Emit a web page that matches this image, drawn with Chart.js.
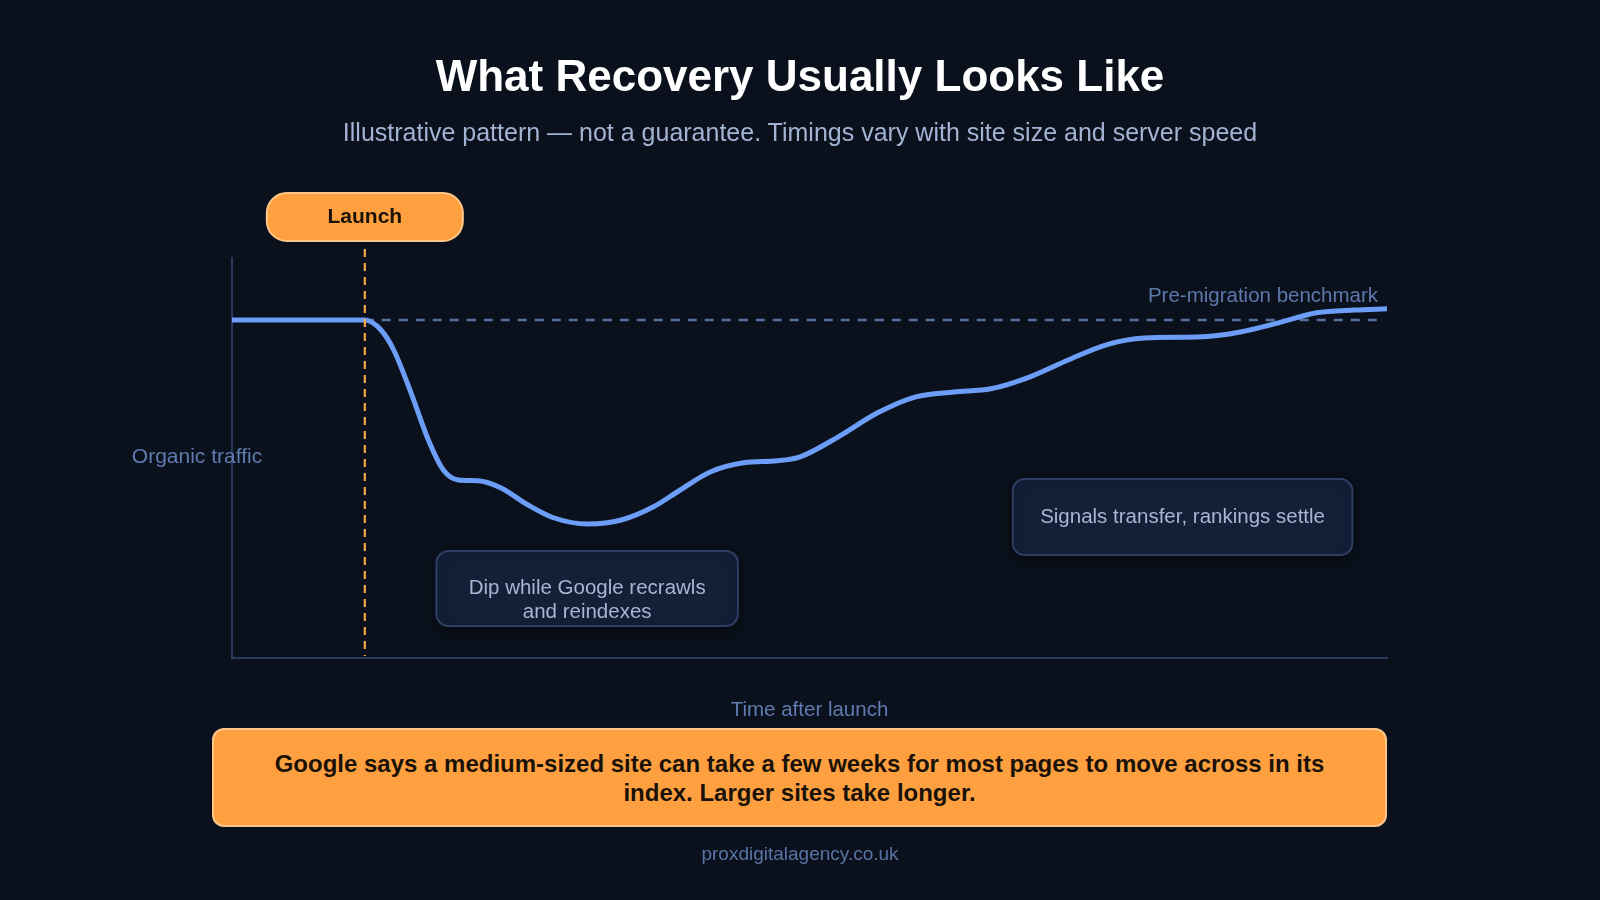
<!DOCTYPE html>
<html>
<head>
<meta charset="utf-8">
<script src="https://cdn.jsdelivr.net/npm/chart.js@4.4.1/dist/chart.umd.min.js"></script>
<style>
    html, body {
        margin: 0;
        padding: 0;
        background: #0a111c;
        width: 1600px;
        height: 900px;
        overflow: hidden;
        font-family: "Liberation Sans", Arial, sans-serif;
    }
    #myChart {
        position: absolute;
        left: 0;
        top: 0;
    }
    .title {
        position: absolute;
        left: 0;
        width: 1600px;
        top: 49px;
        text-align: center;
        color: #ffffff;
        font-size: 44px;
        font-weight: bold;
        line-height: 54px;
    }
    .subtitle {
        position: absolute;
        left: 0;
        width: 1600px;
        top: 117px;
        text-align: center;
        color: #a3b3d3;
        font-size: 25px;
        line-height: 30px;
    }
    .note {
        position: absolute;
        left: 212px;
        top: 728px;
        width: 1175px;
        height: 99px;
        box-sizing: border-box;
        background: #ffa040;
        border: 2px solid #ffc68a;
        border-radius: 12px;
        display: flex;
        align-items: center;
        justify-content: center;
        text-align: center;
        color: #1a1208;
        font-size: 24px;
        font-weight: bold;
        line-height: 29px;
        padding: 0 40px;
    }
    .footer {
        position: absolute;
        left: 0;
        width: 1600px;
        top: 843px;
        text-align: center;
        color: #5a73a5;
        font-size: 19px;
        line-height: 22px;
    }
</style>
</head>
<body>
<canvas id="myChart" width="1600" height="900"></canvas>
<div class="title">What Recovery Usually Looks Like</div>
<div class="subtitle">Illustrative pattern — not a guarantee. Timings vary with site size and server speed</div>
<div class="note">Google says a medium-sized site can take a few weeks for most pages to move across in its index. Larger sites take longer.</div>
<div class="footer">proxdigitalagency.co.uk</div>
<script>
// time after launch (0-100) and organic traffic (0-100)
const timeX = [0, 11.5, 12.9, 14, 15.5, 17, 18.3, 19.6, 21.3, 23.3, 25.6, 27.9, 30.8, 33.7, 36.5, 38.8, 41.4, 44.3, 47.2, 49.2, 52.5, 55.9, 59.2, 62.5, 65.7, 69.1, 72.4, 75.7, 79.0, 84.0, 87.3, 90.6, 93.9, 97.2, 100];
const traffic = [84.5, 84.5, 82, 77, 66.3, 54.5, 47, 44.5, 44.3, 42.5, 38.3, 35, 33.5, 34.5, 37.8, 42, 46.5, 48.8, 49.3, 50.3, 55.3, 61.3, 65.3, 66.5, 67.3, 70.3, 74.5, 78.3, 80, 80.3, 81.5, 83.8, 86.3, 87, 87.3];

const launchX = 11.5;
const benchmarkY = 84.5;
const benchmarkX = [11.5, 99.4];

const labels = {
    launch: "Launch",
    benchmark: "Pre-migration benchmark",
    yAxis: "Organic traffic",
    xAxis: "Time after launch",
    dip: ["Dip while Google recrawls", "and reindexes"],
    settle: ["Signals transfer, rankings settle"]
};
// callout boxes anchored in data units: [x0, x1, yTop, yBottom]
const dipBox = [17.7, 43.8, 26.75, 8];
const settleBox = [67.6, 97, 44.75, 25.75];

function roundBox(ctx, x, y, w, h, r, fill, stroke) {
    ctx.beginPath();
    ctx.roundRect(x, y, w, h, r);
    ctx.fillStyle = fill;
    ctx.fill();
    ctx.lineWidth = 2;
    ctx.strokeStyle = stroke;
    ctx.stroke();
}

function callout(ctx, xs, ys, box, lines) {
    const x0 = xs.getPixelForValue(box[0]);
    const x1 = xs.getPixelForValue(box[1]);
    const y0 = ys.getPixelForValue(box[2]);
    const y1 = ys.getPixelForValue(box[3]);
    ctx.save();
    ctx.shadowColor = "rgba(0,0,0,0.45)";
    ctx.shadowBlur = 14;
    ctx.shadowOffsetY = 4;
    roundBox(ctx, x0, y0, x1 - x0, y1 - y0, 12, "#141f38", "#2f3f63");
    ctx.restore();
    ctx.fillStyle = "#a8b6d2";
    ctx.font = "20.5px 'Liberation Sans', Arial, sans-serif";
    ctx.textAlign = "center";
    ctx.textBaseline = "middle";
    const cx = (x0 + x1) / 2;
    const cy = (y0 + y1) / 2;
    const lh = 24;
    lines.forEach((t, i) => {
        let off = lines.length > 1 ? (i - 0.5) * lh + 12 : 0;
        ctx.fillText(t, cx, cy + off);
    });
}

const annotate = {
    id: "annotate",
    afterDatasetsDraw(chart) {
        const ctx = chart.ctx;
        const xs = chart.scales.x;
        const ys = chart.scales.y;
        const area = chart.chartArea;

        // launch marker
        const lx = xs.getPixelForValue(launchX);
        ctx.save();
        ctx.strokeStyle = "#f5a445";
        ctx.lineWidth = 2.2;
        ctx.setLineDash([8, 6]);
        ctx.beginPath();
        ctx.moveTo(lx, area.top - 9);
        ctx.lineTo(lx, area.bottom - 2);
        ctx.stroke();
        ctx.restore();

        ctx.save();
        roundBox(ctx, lx - 98, area.top - 65, 196, 48, 20, "#ffa040", "#ffc68a");
        ctx.fillStyle = "#1b1206";
        ctx.font = "bold 21px 'Liberation Sans', Arial, sans-serif";
        ctx.textAlign = "center";
        ctx.textBaseline = "middle";
        ctx.fillText(labels.launch, lx, area.top - 41);
        ctx.restore();

        // benchmark label
        ctx.save();
        ctx.fillStyle = "#5d78ab";
        ctx.font = "20.5px 'Liberation Sans', Arial, sans-serif";
        ctx.textAlign = "right";
        ctx.textBaseline = "middle";
        ctx.fillText(labels.benchmark, xs.getPixelForValue(benchmarkX[1]) - 2, ys.getPixelForValue(benchmarkY) - 24);

        // axis labels
        ctx.fillStyle = "#5f7bb0";
        ctx.font = "21px 'Liberation Sans', Arial, sans-serif";
        ctx.textAlign = "center";
        ctx.fillText(labels.yAxis, area.left - 35, (area.top + area.bottom) / 2 - 1);
        ctx.font = "20.5px 'Liberation Sans', Arial, sans-serif";
        ctx.fillText(labels.xAxis, (area.left + area.right) / 2, area.bottom + 52);
        ctx.restore();

        callout(ctx, xs, ys, dipBox, labels.dip);
        callout(ctx, xs, ys, settleBox, labels.settle);
    }
};

const chartConfig = new Chart(document.getElementById("myChart"), {
    type: "line",
    data: {
        datasets: [
            {
                label: "Organic traffic",
                data: timeX.map((x, i) => ({ x: x, y: traffic[i] })),
                borderColor: "#6c9ef8",
                borderWidth: 5,
                pointRadius: 0,
                cubicInterpolationMode: "monotone",
                fill: false,
            },
            {
                label: "Pre-migration benchmark",
                data: benchmarkX.map((x) => ({ x: x, y: benchmarkY })),
                borderColor: "#56709f",
                borderWidth: 2.5,
                borderDash: [9, 8],
                pointRadius: 0,
                fill: false,
            },
        ],
    },
    options: {
        responsive: false,
        animation: false,
        devicePixelRatio: 1,
        layout: {
            padding: { left: 224, right: 213, top: 258, bottom: 234 },
        },
        plugins: {
            legend: { display: false },
            tooltip: { enabled: false },
        },
        scales: {
            x: {
                type: "linear",
                min: 0,
                max: 100,
                grid: { display: false },
                ticks: { display: false },
                border: { color: "#2a3a5c", width: 2 },
            },
            y: {
                min: 0,
                max: 100,
                grid: { display: false },
                ticks: { display: false },
                border: { color: "#2a3a5c", width: 2 },
            },
        },
    },
    plugins: [annotate],
});
</script>
</body>
</html>
